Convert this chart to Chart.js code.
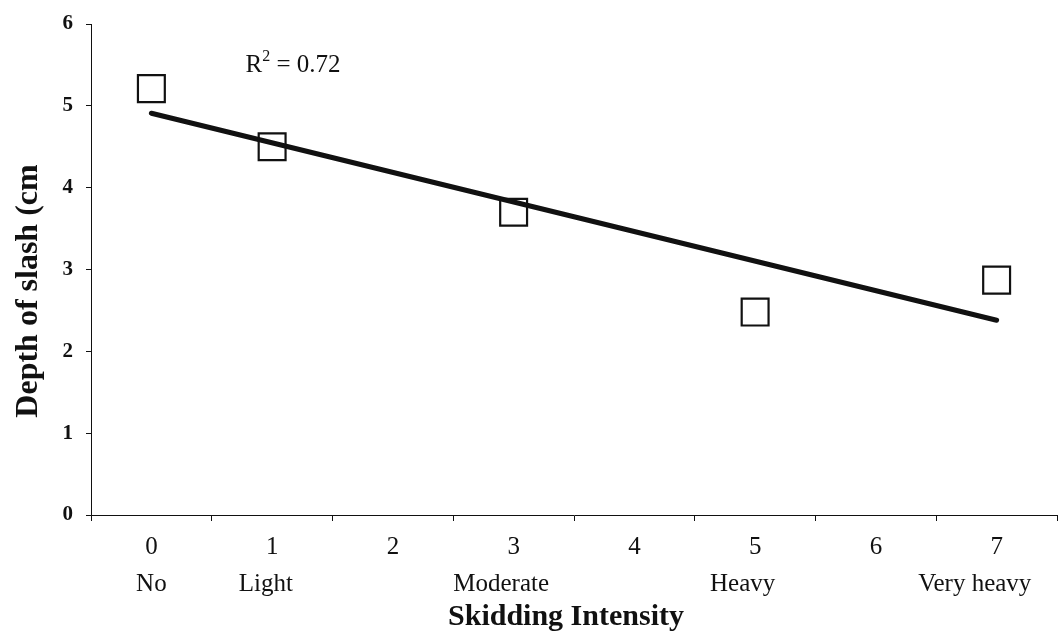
<!DOCTYPE html>
<html>
<head>
<meta charset="utf-8">
<script src="https://cdn.jsdelivr.net/npm/chart.js@4.4.1/dist/chart.umd.min.js"></script>
<style>
    html, body { margin: 0; padding: 0; background: #fff; }
    #wrap { width: 1061px; height: 637px; }
</style>
</head>
<body>
<div id="wrap"><canvas id="chartSlash" width="1061" height="637"></canvas></div>
<script>
// ==================== DATA ====================
const intensity = ['0', '1', '2', '3', '4', '5', '6', '7'];
// trailing spaces keep the long names sitting a bit left of their number
const intensityNames = ['No', 'Light  ', '', 'Moderate    ', '', 'Heavy    ', '', 'Very heavy       '];
const slashDepth = [5.21, 4.50, null, 3.70, null, 2.48, null, 2.87];
const trendDepth = [4.91, null, null, null, null, null, null, 2.38];
const yTicks = [0, 1, 2, 3, 4, 5, 6];
const rSquared = '0.72';

const serif = "'Liberation Serif', 'Times New Roman', serif";
const ink = '#111';

// R² note and both axis titles, drawn on top of the chart
const chartText = {
    id: 'chartText',
    afterDraw(chart) {
        const { ctx, scales } = chart;
        ctx.save();
        ctx.fillStyle = ink;

        // R² = 0.72 near the top left
        const x = scales.x.getPixelForValue(0.78);
        const y = scales.y.getPixelForValue(5.41);
        ctx.textBaseline = 'alphabetic';
        ctx.textAlign = 'left';
        ctx.font = '25px ' + serif;
        ctx.fillText('R', x, y);
        let w = ctx.measureText('R').width;
        ctx.font = '16px ' + serif;
        ctx.fillText('2', x + w, y - 11);
        w += ctx.measureText('2').width;
        ctx.font = '25px ' + serif;
        ctx.fillText(' = ' + rSquared, x + w, y);

        // x axis title
        ctx.textAlign = 'center';
        ctx.font = 'bold 30px ' + serif;
        ctx.fillText('Skidding Intensity', 566, 625);

        // y axis title, rotated
        ctx.translate(37, 291);
        ctx.rotate(-Math.PI / 2);
        ctx.font = 'bold 32px ' + serif;
        ctx.fillText('Depth of slash (cm', 0, 0);
        ctx.restore();
    }
};

new Chart(document.getElementById('chartSlash'), {
    type: 'line',
    data: {
        labels: intensity,
        datasets: [{
            label: 'Trend',
            data: trendDepth,
            spanGaps: true,
            borderColor: ink,
            borderWidth: 5,
            borderCapStyle: 'round',
            pointRadius: 0,
            pointHoverRadius: 0,
            order: 2
        }, {
            label: 'Depth of slash',
            data: slashDepth,
            showLine: false,
            pointStyle: 'rect',
            pointRadius: 19,
            pointHoverRadius: 19,
            pointBackgroundColor: 'rgba(255,255,255,0)',
            pointBorderColor: ink,
            pointBorderWidth: 2.2,
            order: 1
        }]
    },
    options: {
        responsive: false,
        animation: false,
        events: [],
        layout: { autoPadding: false, padding: { top: 24, right: 4, left: 0, bottom: 0 } },
        plugins: {
            legend: { display: false },
            tooltip: { enabled: false }
        },
        scales: {
            x: {
                type: 'category',
                offset: true,
                grid: {
                    offset: true,
                    drawOnChartArea: false,
                    drawTicks: true,
                    tickLength: 6,
                    tickColor: ink,
                    color: ink
                },
                border: { color: ink, width: 1 },
                ticks: {
                    color: ink,
                    padding: 8,
                    maxRotation: 0,
                    autoSkip: false,
                    font: { family: serif, size: 25, lineHeight: 1.48 },
                    callback: (v, i) => [intensity[i], intensityNames[i]]
                },
                afterFit: scale => {
                    scale.height = 122;
                    scale.paddingLeft = 0;
                    scale.paddingRight = 0;
                }
            },
            y: {
                min: 0,
                max: 6,
                afterBuildTicks: scale => { scale.ticks = yTicks.map(v => ({ value: v })); },
                grid: {
                    drawOnChartArea: false,
                    drawTicks: true,
                    tickLength: 5,
                    tickColor: ink,
                    color: ink
                },
                border: { color: ink, width: 1 },
                ticks: {
                    color: ink,
                    padding: 13,
                    font: { family: serif, size: 21, weight: 'bold' }
                },
                afterFit: scale => {
                    scale.width = 91;
                    scale.paddingTop = 0;
                    scale.paddingBottom = 0;
                }
            }
        }
    },
    plugins: [chartText]
});
</script>
</body>
</html>
